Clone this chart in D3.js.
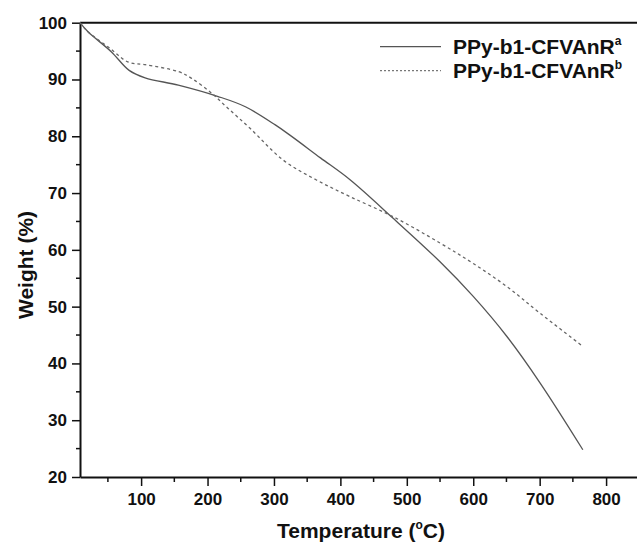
<!DOCTYPE html>
<meta charset="utf-8">
<script src="https://d3js.org/d3.v7.min.js"></script>
<style>
  body { margin: 0; background: #fff; }
  text { font-family: "Liberation Sans", Arial, sans-serif; font-weight: bold; fill: #111; }
</style>
<div id="my_dataviz"></div>
<script>

// solid curve (sample a)
var tempA   = [8, 20, 55, 82, 106, 156, 216, 257, 302, 324, 370, 415, 479, 550, 600, 651, 701, 765];
var weightA = [100, 98.4, 94.9, 91.6, 90.3, 89.0, 87.0, 85.2, 82.0, 80.2, 76.2, 72.3, 65.6, 57.9, 51.8, 44.7, 36.5, 24.8];

// dashed curve (sample b)
var tempB   = [8, 20, 53, 80, 106, 156, 176, 206, 231, 264, 314, 364, 414, 480, 550, 600, 651, 701, 765];
var weightB = [100, 98.4, 95.5, 93.1, 92.6, 91.4, 90.2, 87.6, 84.9, 81.4, 75.8, 72.3, 69.4, 65.8, 61.2, 57.6, 53.5, 48.8, 43.0];

var xTicks = [100, 200, 300, 400, 500, 600, 700, 800];
var yTicks = [20, 30, 40, 50, 60, 70, 80, 90, 100];
var legendNames = ["PPy-b1-CFVAnR", "PPy-b1-CFVAnR"];
var legendSups = ["a", "b"];

var W = 637, H = 543;
var margin = {top: 22.7, left: 80, bottom: 477};

var svg = d3.select("#my_dataviz")
  .append("svg")
    .attr("width", W)
    .attr("height", H);

var x = d3.scaleLinear().domain([8, 850]).range([margin.left, 639.3]);
var y = d3.scaleLinear().domain([20, 100]).range([margin.bottom, margin.top]);

// minor ticks
var xMinor = d3.range(50, 850, 100);
var yMinor = d3.range(25, 100, 10);

svg.append("g").selectAll("line").data(xMinor).enter().append("line")
  .attr("x1", function(d) { return x(d); }).attr("x2", function(d) { return x(d); })
  .attr("y1", y(20)).attr("y2", y(20) + 5)
  .attr("stroke", "#111").attr("stroke-width", 1.5);

svg.append("g").selectAll("line").data(yMinor).enter().append("line")
  .attr("y1", function(d) { return y(d); }).attr("y2", function(d) { return y(d); })
  .attr("x1", x(8)).attr("x2", x(8) - 4)
  .attr("stroke", "#111").attr("stroke-width", 1.5);

// X axis
var xAxis = svg.append("g")
  .attr("transform", "translate(0," + y(20) + ")")
  .call(d3.axisBottom(x).tickValues(xTicks).tickSize(9).tickPadding(7).tickSizeOuter(0));
xAxis.selectAll("text").style("font-size", "17px");

// Y axis
var yAxis = svg.append("g")
  .attr("transform", "translate(" + x(8) + ",0)")
  .call(d3.axisLeft(y).tickValues(yTicks).tickSize(8).tickPadding(5).tickSizeOuter(0));
yAxis.selectAll("text").style("font-size", "17px");

svg.selectAll(".domain").attr("stroke", "#111").attr("stroke-width", 2);
svg.selectAll(".tick line").attr("stroke", "#111").attr("stroke-width", 1.5);

// top frame line
svg.append("line")
  .attr("x1", x(8)).attr("x2", 640)
  .attr("y1", y(100)).attr("y2", y(100))
  .attr("stroke", "#111").attr("stroke-width", 2);

// curves
var lineGen = d3.line()
  .x(function(d) { return x(d[0]); })
  .y(function(d) { return y(d[1]); })
  .curve(d3.curveCatmullRom.alpha(0.5));

svg.append("path")
  .datum(d3.zip(tempA, weightA))
  .attr("fill", "none")
  .attr("stroke", "#555")
  .attr("stroke-width", 1.3)
  .attr("d", lineGen);

svg.append("path")
  .datum(d3.zip(tempB, weightB))
  .attr("fill", "none")
  .attr("stroke", "#666")
  .attr("stroke-width", 1.3)
  .attr("stroke-dasharray", "3,3")
  .attr("d", lineGen);

// legend
var legY = [46.7, 70.7];
legendNames.forEach(function(name, i) {
  svg.append("line")
    .attr("x1", 380).attr("x2", 441)
    .attr("y1", legY[i]).attr("y2", legY[i])
    .attr("stroke", i == 0 ? "#555" : "#777")
    .attr("stroke-width", 1.2)
    .attr("stroke-dasharray", i == 0 ? null : "2,2");
  var t = svg.append("text")
    .attr("x", 453)
    .attr("y", legY[i] + 7)
    .style("font-size", "21px")
    .text(name);
  t.append("tspan")
    .attr("dy", -9)
    .style("font-size", "12px")
    .text(legendSups[i]);
});

// axis titles
var xt = svg.append("text")
  .attr("x", 361)
  .attr("y", 538)
  .attr("text-anchor", "middle")
  .style("font-size", "21px")
  .text("Temperature (");
xt.append("tspan").attr("dy", -9).style("font-size", "12px").text("o");
xt.append("tspan").attr("dy", 9).text("C)");

svg.append("text")
  .attr("transform", "translate(33,265) rotate(-90)")
  .attr("text-anchor", "middle")
  .style("font-size", "21px")
  .text("Weight (%)");

</script>
